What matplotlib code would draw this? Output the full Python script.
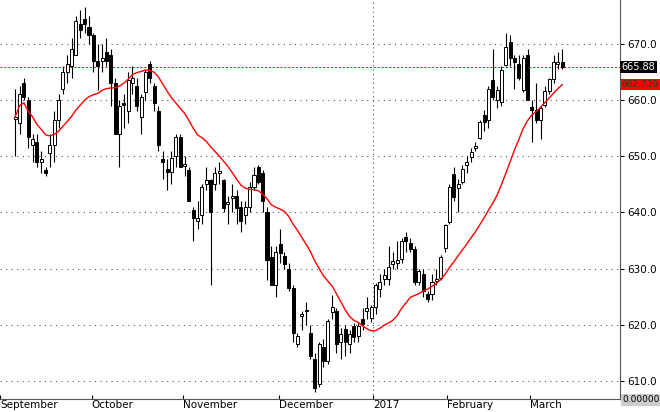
import numpy as np
import pandas as pd
import matplotlib
matplotlib.use("Agg")
import matplotlib.pyplot as plt

# OHLC data (daily candles, Sept 2016 - Mar 2017)
opens = [656.7, 656, 663, 660, 652, 652.5, 649, 647.5, 650.5, 652, 656.5, 662, 665, 666, 668, 673.5, 674.5, 673, 671.5, 667,
         667, 668.5, 668, 663, 654, 659.5, 658, 663, 662.5, 657, 661.5, 666.5, 662.5, 658, 649.5, 647.8, 647.2, 650, 653.5, 648.3,
         647.5, 640.5, 638.5, 639.5, 645, 645.8, 645, 647, 645.8, 641.5, 642.5, 643, 641, 639.5, 641, 644.5, 648, 647, 640, 632,
         627, 634.3, 632.3, 630, 626.5, 616.5, 621.5, 622.7, 618.5, 614, 609.5, 616, 613.5, 622.2, 622.5, 617, 619.2, 616.5, 619.8, 618,
         621, 622.5, 621.3, 623.1, 626.4, 628.2, 628.2, 630.8, 631, 631.8, 635.6, 634.6, 633.5, 627.6, 629, 625.5, 625.5, 627.8, 628.4, 633.6,
         638.3, 646.9, 644.3, 645.4, 648.4, 649.9, 651.5, 653.2, 657.3, 656.4, 663.6, 660, 659.7, 666.3, 670.4, 667.4, 666.5, 661.8, 668, 658.8,
         658.2, 656.4, 659.2, 661.6, 663.7, 666.4, 666.8]
closes = [657, 661, 660.5, 653.5, 653, 649, 649.5, 647, 652, 656.5, 660, 665, 666.5, 669, 674, 672.5, 673.5, 671.5, 667, 666,
          667.5, 667, 663, 654, 659, 659.2, 663.5, 664, 659, 660.5, 665, 664, 659.5, 652, 649, 647.2, 649.7, 653.5, 648, 648.6,
          642, 639, 639, 644.5, 645.8, 640, 647, 647.3, 640.7, 641.8, 643, 640.7, 638.5, 641, 644.5, 646.6, 645.4, 642, 631.5, 627,
          633, 632.7, 630.8, 626.5, 618.5, 618, 622, 622.4, 614.5, 608.8, 616.5, 613.5, 620.7, 623.2, 616.5, 618.3, 617, 618.3, 617.8, 619.8,
          620.1, 623, 623.1, 627, 627.6, 628.8, 630.2, 631.4, 631.5, 635, 635, 633.5, 627.6, 629.6, 626, 624.6, 627.6, 628.1, 632, 637.7,
          644.5, 642.7, 645.1, 647.8, 649, 650.8, 651.8, 656.1, 656.1, 662, 660.6, 661.8, 665.4, 669.5, 667.4, 666.8, 663.9, 667.5, 660, 658.2,
          656.4, 658.5, 661.6, 663.7, 666.7, 666.7, 665.88]
highs = [662, 662.5, 664, 660.5, 654, 654, 651, 648, 654, 658, 661, 666, 668, 671, 675, 676, 676.5, 675, 672, 670,
         670, 671, 669, 664, 660, 661, 665, 666, 664, 661, 665.5, 667, 663, 659, 651, 649.5, 651, 654, 654, 650,
         648, 641, 642, 645, 648, 646, 648, 649, 646, 643, 645, 644, 642, 642, 645.5, 648, 648.5, 647.5, 641, 634,
         634, 637, 633, 631, 627, 618.5, 622.5, 624, 620, 615, 617, 617.5, 621, 625.3, 623, 619.5, 620, 619, 620.3, 620.3,
         623, 625, 623.5, 627.5, 629, 630, 634, 633, 635, 635.5, 636.5, 635.5, 634, 630, 630, 626, 629, 630, 632.5, 638,
         645, 648, 646, 648.5, 650, 651.5, 652.5, 656.5, 658.3, 662.5, 669, 662.5, 666, 672, 671.5, 668, 668, 668, 669, 660,
         663, 659, 662.5, 664, 668, 668.5, 669]
lows = [650, 654, 660, 651.5, 649, 648, 647, 646.5, 648, 649, 655, 661, 663, 664, 668, 671, 672, 670, 665, 661.8,
        665, 666, 659, 654, 648, 655, 656, 661, 658, 654, 660, 663, 658, 651, 646, 644, 645, 648, 648, 646.5,
        642, 635, 637, 638, 644, 627, 644, 645, 640, 638, 640, 638, 636.5, 638, 640, 644, 645, 640, 628, 627,
        625, 631, 630, 626, 617, 616, 619, 620, 614, 608, 609, 612.5, 613, 621, 615, 614, 614.5, 615, 617, 617,
        619, 621, 620.5, 622, 625, 627, 627, 630, 630, 631, 633, 633, 627, 627, 625, 624, 624.5, 627, 628, 633,
        638, 642, 640, 645, 647, 649, 651, 653, 654.5, 655, 660, 658.5, 659, 666, 666, 662, 663.5, 661.5, 660, 652.5,
        656, 653, 658.8, 661, 663, 665.5, 665.5]

month_labels = ["September", "October", "November", "December", "2017", "February", "March"]
month_pos = [-3.5, 17.6, 38.6, 60.7, 82.4, 99.5, 118.5]

df = pd.DataFrame({"open": opens, "high": highs, "low": lows, "close": closes})
ma = df["close"].rolling(20, min_periods=1).mean()
last = closes[-1]
idx = np.arange(len(df))

fig = plt.figure(figsize=(6.6, 4.12), dpi=100)
ax = fig.add_axes([0, 13 / 412, 620 / 660, 399 / 412])

for i, r in df.iterrows():
    ax.vlines(i, r["low"], r["high"], color="black", linewidth=0.8, zorder=3)
    up = r["close"] >= r["open"]
    bottom = min(r["open"], r["close"])
    h = max(abs(r["close"] - r["open"]), 0.15)
    ax.bar(i, h, bottom=bottom, width=0.7, color="white" if up else "black",
           edgecolor="black", linewidth=0.7, zorder=4)

ax.plot(idx, ma, color="red", linewidth=1.0, zorder=5)
ax.axhline(last, color="red", linestyle=(0, (2, 2)), linewidth=0.7, zorder=2)
ax.axvline(82.4, color="#555555", linestyle=(0, (1, 3)), linewidth=0.8, zorder=1)

ax.set_xlim(-0.6, 139.3)
ax.set_ylim(606.8, 677.8)
ax.set_yticks(np.arange(610, 671, 10))
ax.yaxis.grid(True, color="#555555", linestyle=(0, (1, 4)), linewidth=0.8)
ax.yaxis.tick_right()
ax.set_yticklabels([f"{v:.1f}" for v in np.arange(610, 671, 10)], fontsize=7.5)
ax.tick_params(axis="y", length=3, pad=2)
ax.set_xticks(month_pos)
ax.set_xticklabels(month_labels, fontsize=7.5, ha="left")
ax.tick_params(axis="x", length=3, pad=1, direction="in")
for s in ["top", "left"]:
    ax.spines[s].set_visible(False)
ax.spines["bottom"].set_color("#555555")
ax.spines["right"].set_color("#555555")

ax.text(1.003, last, "665.88", transform=ax.get_yaxis_transform(), fontsize=7, color="white",
        va="center", ha="left", bbox=dict(facecolor="black", edgecolor="none", pad=1))
ax.text(1.003, ma.iloc[-1], f"{ma.iloc[-1]:.3f}", transform=ax.get_yaxis_transform(), fontsize=6.5,
        color="#333333", va="center", ha="left", bbox=dict(facecolor="red", edgecolor="none", pad=1))
fig.text(622 / 660, 1 - 400 / 412, "0.00000", fontsize=6.5, va="center", ha="left",
         bbox=dict(facecolor="#cccccc", edgecolor="none", pad=1))

fig.savefig("out.png", dpi=100)
